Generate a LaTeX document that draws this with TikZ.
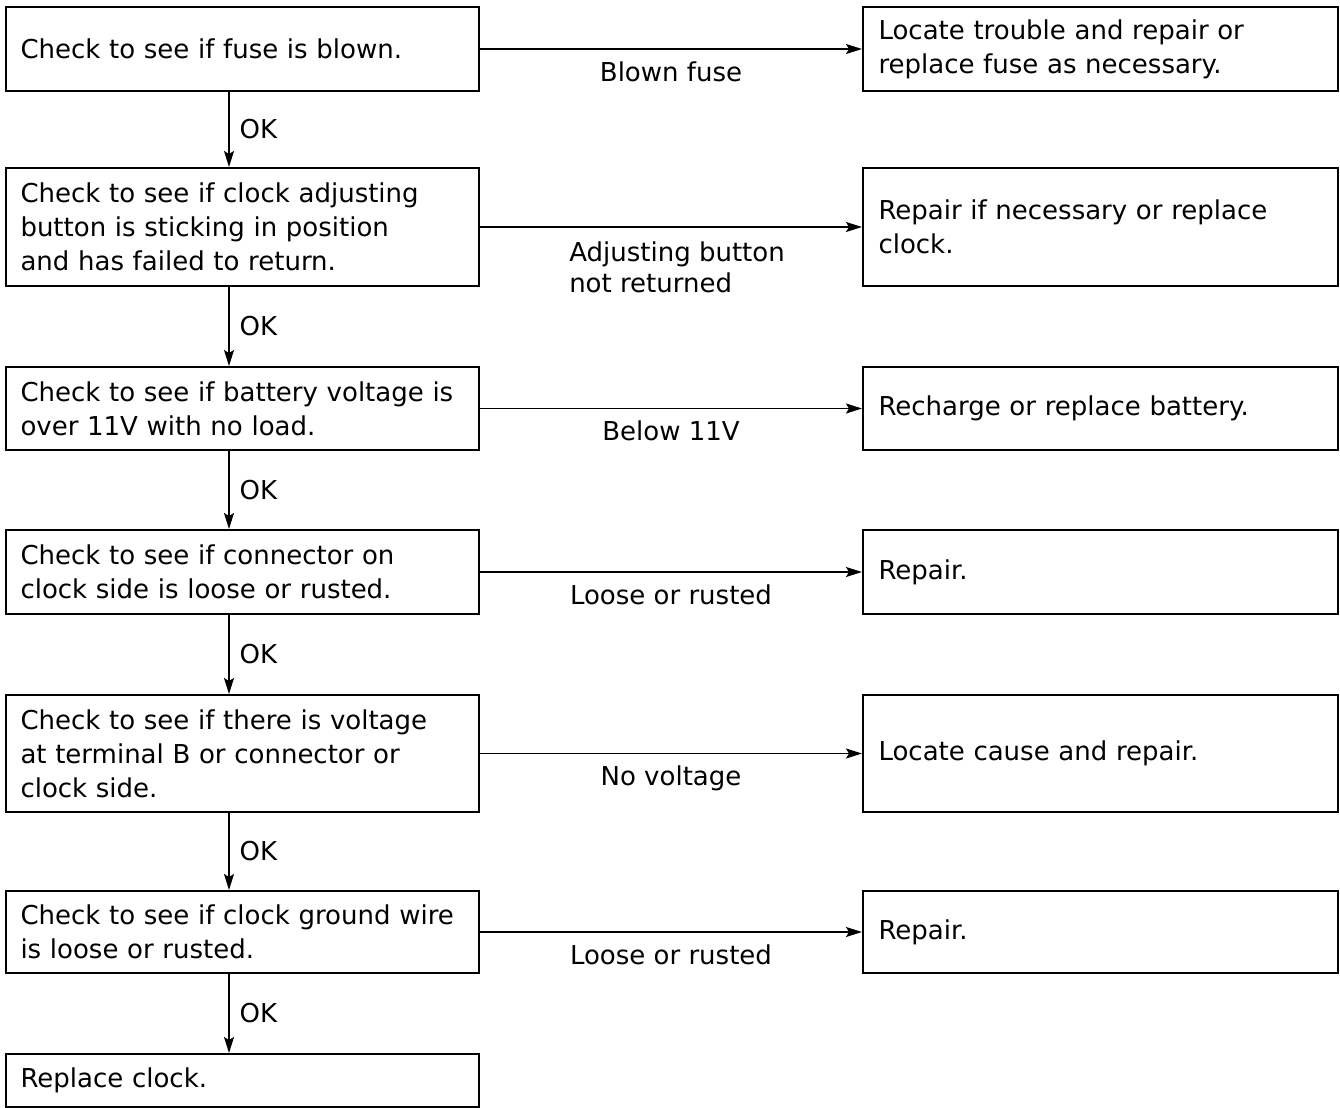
\documentclass[tikz,border=0pt]{standalone}
\usepackage{fontspec}
\setmainfont{DejaVu Sans}
\usetikzlibrary{arrows.meta}
\tikzstyle{check} = [rectangle, draw=black, line width=1pt, minimum width=236.5pt, text width=222pt, inner xsep=7pt, align=left, font=\fontsize{13}{17}\selectfont]
\tikzstyle{fix} = [rectangle, draw=black, line width=1pt, minimum width=237.5pt, text width=222pt, inner xsep=7.5pt, align=left, font=\fontsize{13}{17}\selectfont]
\tikzstyle{arrow} = [line width=0.7pt,->,>={Stealth[length=8pt,width=5pt,inset=1.5pt]}]
\tikzstyle{cond} = [below=6pt, inner sep=0pt, align=left, font=\fontsize{13}{15.5}\selectfont]
\tikzstyle{ok} = [right=5pt, inner sep=0pt, font=\fontsize{13}{15}\selectfont]

\begin{document}
\begin{tikzpicture}[x=0.5pt, y=-0.5pt]
\useasboundingbox (0,0) rectangle (1340,1108);

\node (chk1) [check, minimum height=42pt] at (242.5,49) {Check to see if fuse is blown.};

\node (chk2) [check, minimum height=59pt] at (242.5,227) {Check to see if clock adjusting\\button is sticking in position\\and has failed to return.};

\node (chk3) [check, minimum height=41.5pt] at (242.5,408.5) {Check to see if battery voltage is\\over 11V with no load.};

\node (chk4) [check, minimum height=42pt] at (242.5,572) {Check to see if connector on\\clock side is loose or rusted.};

\node (chk5) [check, minimum height=58.5pt] at (242.5,753.5) {Check to see if there is voltage\\at terminal B or connector or\\clock side.};

\node (chk6) [check, minimum height=41pt] at (242.5,932) {Check to see if clock ground wire\\is loose or rusted.};

\node (end) [check, minimum height=26.5pt] at (242.5,1080.5) {Replace clock.};

\node (fix1) [fix, minimum height=42pt] at (1100.5,49) {Locate trouble and repair or\\replace fuse as necessary.};

\node (fix2) [fix, minimum height=59pt] at (1100.5,227) {Repair if necessary or replace\\clock.};

\node (fix3) [fix, minimum height=41.5pt] at (1100.5,408.5) {Recharge or replace battery.};

\node (fix4) [fix, minimum height=42pt] at (1100.5,572) {Repair.};

\node (fix5) [fix, minimum height=58.5pt] at (1100.5,753.5) {Locate cause and repair.};

\node (fix6) [fix, minimum height=41pt] at (1100.5,932) {Repair.};

\draw [arrow] (chk1) -- node [cond] {Blown fuse} (fix1);
\draw [arrow] (chk2) -- node [cond, below=1pt, xshift=3pt] {Adjusting button\\not returned} (fix2);
\draw [arrow] (chk3) -- node [cond] {Below 11V} (fix3);
\draw [arrow] (chk4) -- node [cond] {Loose or rusted} (fix4);
\draw [arrow] (chk5) -- node [cond] {No voltage} (fix5);
\draw [arrow] (chk6) -- node [cond] {Loose or rusted} (fix6);

\draw [arrow] ([xshift=-6.75pt]chk1.south) -- node [ok] {OK} ([xshift=-6.75pt]chk2.north);
\draw [arrow] ([xshift=-6.75pt]chk2.south) -- node [ok] {OK} ([xshift=-6.75pt]chk3.north);
\draw [arrow] ([xshift=-6.75pt]chk3.south) -- node [ok] {OK} ([xshift=-6.75pt]chk4.north);
\draw [arrow] ([xshift=-6.75pt]chk4.south) -- node [ok] {OK} ([xshift=-6.75pt]chk5.north);
\draw [arrow] ([xshift=-6.75pt]chk5.south) -- node [ok] {OK} ([xshift=-6.75pt]chk6.north);
\draw [arrow] ([xshift=-6.75pt]chk6.south) -- node [ok] {OK} ([xshift=-6.75pt]end.north);
\end{tikzpicture}
\end{document}
